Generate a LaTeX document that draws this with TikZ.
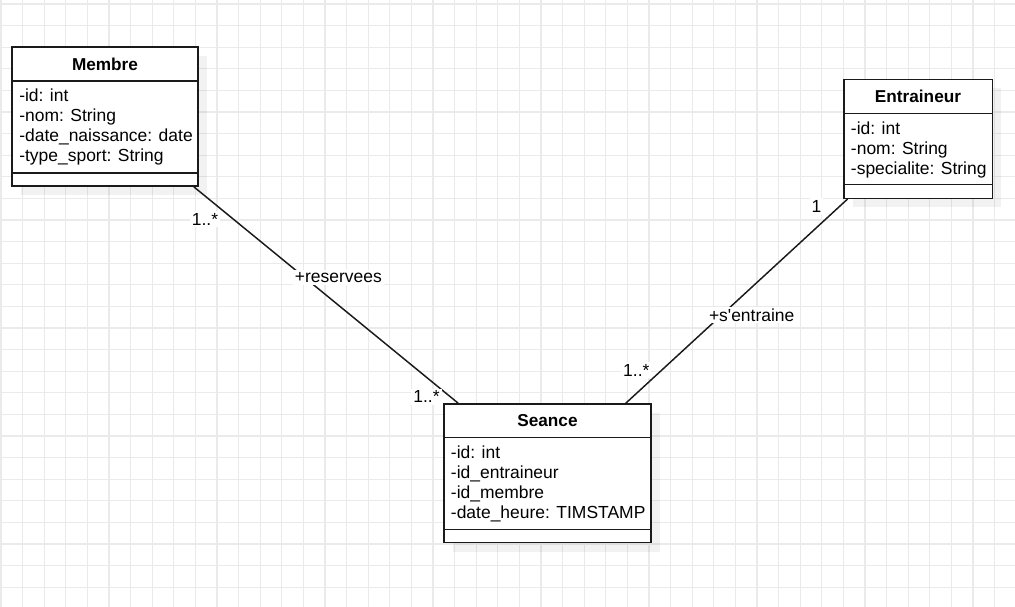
\documentclass[tikz,border=0pt]{standalone}
\usepackage{fontspec}
\setmainfont{Liberation Sans}
\newfontfamily\plainsans{Liberation Sans}
\usetikzlibrary{calc,fit}
\definecolor{gridc}{HTML}{EAEAEA}
\definecolor{linec}{HTML}{1A1A1A}
\tikzset{
  gridline/.style={draw=gridc, line width=0.9pt},
  classbox/.style={draw=linec, line width=1.1pt, fill=white, inner sep=0pt},
  sepline/.style={draw=linec, line width=1.1pt},
  shadowbox/.style={fill=black, fill opacity=0.05},
  attr/.style={anchor=base west, inner sep=0pt, font=\fontsize{13.1pt}{15pt}\selectfont, text=black},
  title/.style={anchor=center, inner sep=0pt, font=\fontsize{12.9pt}{15pt}\selectfont\bfseries, text=black},
  assoc/.style={draw=linec, line width=1.1pt},
  lbl/.style={fill=white, inner sep=1.5pt, font=\fontsize{13.1pt}{15pt}\selectfont, text=black}
}
\begin{document}
\begin{tikzpicture}[x=0.75pt,y=-0.75pt]
\useasboundingbox (0,0) rectangle (1015,607);
\fill[white] (0,0) rectangle (1015,607);
% grid
\foreach \k in {0,...,46} { \draw[gridline] ({1+21.6*\k},0) -- ({1+21.6*\k},607); }
\foreach \k in {0,...,27} { \draw[gridline] (0,{4+21.6*\k}) -- (1015,{4+21.6*\k}); }
% shadows
\fill[shadowbox] (21,56) rectangle (207,195);
\fill[shadowbox] (853,88.3) rectangle (1001.3,207.3);
\fill[shadowbox] (453,413) rectangle (660,551.7);
% Membre
\node[classbox, fit={(12,47) (198,186)}] (membre) {};
\draw[sepline] (12,81) -- (198,81);
\draw[sepline] (12,173) -- (198,173);
\node[title] (membreT) at (105,64) {Membre};
\node[attr] (m1) at (19,101.5) {-id: int};
\node[attr] (m2) at (19,121.5) {-nom: String};
\node[attr] (m3) at (19,141.5) {-date\_naissance: date};
\node[attr] (m4) at (19,161.5) {-type\_sport: String};
% Entraineur
\node[classbox, fit={(844,79.3) (992.3,198.3)}] (entr) {};
\draw[sepline] (844,113.3) -- (992.3,113.3);
\draw[sepline] (844,184.3) -- (992.3,184.3);
\node[title] (entrT) at (918,96.3) {Entraineur};
\node[attr] (e1) at (850.7,134) {-id: int};
\node[attr] (e2) at (850.7,154) {-nom: String};
\node[attr] (e3) at (850.7,174) {-specialite: String};
% Seance
\node[classbox, fit={(444,404) (651,542.7)}] (seance) {};
\draw[sepline] (444,437.3) -- (651,437.3);
\draw[sepline] (444,529.7) -- (651,529.7);
\node[title] (seanceT) at (547.5,420.7) {Seance};
\node[attr] (s1) at (450.7,458.3) {-id: int};
\node[attr] (s2) at (450.7,478.3) {-id\_entraineur};
\node[attr] (s3) at (450.7,498.3) {-id\_membre};
\node[attr] (s4) at (450.7,518.3) {-date\_heure: TIMSTAMP};
% associations
\draw[assoc] ($(membre.south east)+(-5,0)$) -- ($(seance.north west)+(15,0)$);
\draw[assoc] ($(entr.south west)+(4.3,0)$) -- ($(seance.north east)+(-26,0)$);
% labels
\node[lbl] (l1) at (205,219.3) {1..*};
\node[lbl] (l2) at (338.3,277.5) {+reservees};
\node[lbl] (l3) at (426.5,396.7) {1..*};
\node[lbl] (l4) at (816.5,206.5) {1};
\node[lbl] (l5) at (751.7,315) {\plainsans +s'entraine};
\node[lbl] (l6) at (636.3,370) {1..*};
\end{tikzpicture}
\end{document}
